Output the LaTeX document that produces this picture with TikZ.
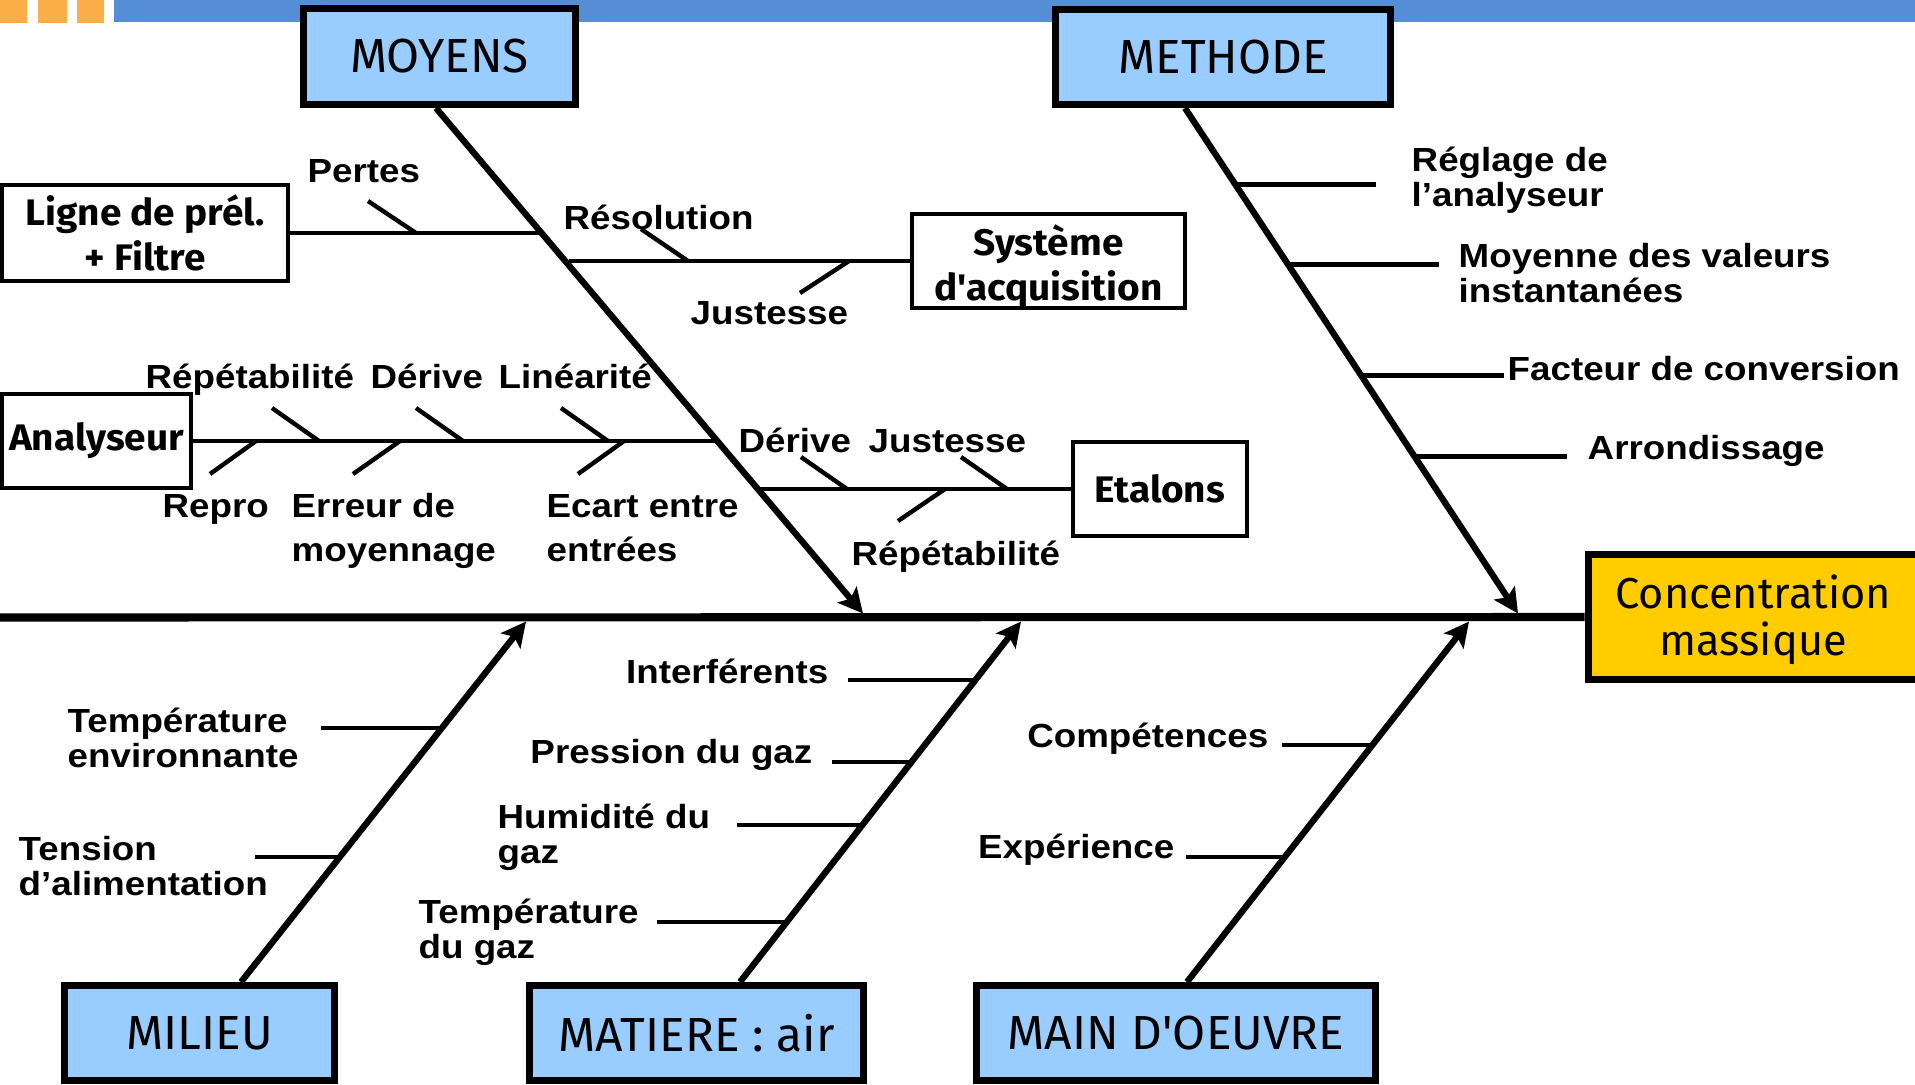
\documentclass[tikz,border=0pt]{standalone}
\usepackage{fontspec}
\setmainfont{Liberation Sans}
\newfontfamily\labfont[FakeStretch=1.1]{Liberation Sans}
\newfontfamily\catfont{Fira Sans}
\newfontfamily\subfont[FakeStretch=1.05]{Fira Sans}
\usetikzlibrary{arrows.meta}

\definecolor{barblue}{RGB}{85,142,213}
\definecolor{barorange}{RGB}{251,173,71}
\definecolor{catblue}{RGB}{153,204,255}
\definecolor{effyellow}{RGB}{255,204,0}

% two stacked lines whose baseline is the first one
\newcommand{\twoln}[2]{\vtop{\hbox{#1}\hbox{#2}}}

\begin{document}
\begin{tikzpicture}[x=0.01cm,y=-0.01cm,
  cat/.style={draw=black, line width=2pt, fill=catblue, inner sep=0pt,
    font=\catfont\fontsize{13.6}{16}\selectfont},
  effbox/.style={draw=black, line width=2pt, fill=effyellow, inner sep=0pt, align=center,
    font=\catfont\fontsize{12.3}{13.4}\selectfont},
  subbox/.style={draw=black, line width=1.2pt, fill=white, inner sep=0pt, align=center,
    font=\subfont\bfseries\fontsize{10.5}{12.6}\selectfont},
  lab/.style={inner sep=0pt, font=\labfont\bfseries\fontsize{9.5}{10}\selectfont},
  labw/.style={inner sep=0pt, font=\labfont\bfseries\fontsize{9.5}{12.6}\selectfont},
  spine/.style={line width=2.3pt},
  bone/.style={line width=1.8pt, -{Stealth[length=7pt,width=7pt,inset=1.5pt]}},
  twig/.style={line width=1.25pt}]

\clip (0,0) rectangle (1915,1084);

% header band
\fill[barorange] (0,0) rectangle (27,23);
\fill[barorange] (38,0) rectangle (67,23);
\fill[barorange] (77,0) rectangle (104,23);
\fill[barblue] (114,0) rectangle (1915,22);

% category boxes
\node[cat, minimum width=2.72cm, minimum height=0.96cm] (moyens) at (439.5,56.5) {MOYENS};
\node[cat, minimum width=3.35cm, minimum height=0.95cm] (methode) at (1223,57) {METHODE};
\node[cat, minimum width=2.70cm, minimum height=0.95cm] (milieu) at (199.5,1033) {MILIEU};
\node[cat, minimum width=3.34cm, minimum height=0.95cm] (matiere) at (696.5,1033) {MATIERE : air};
\node[cat, minimum width=3.99cm, minimum height=0.95cm] (mainoe) at (1176,1033) {MAIN D'OEUVRE};
\node[effbox, anchor=west, minimum width=3.5cm, minimum height=1.25cm] (effet) at (1584.5,617)
  {\rule{0pt}{11pt}Concentration\kern5.6pt\\massique\kern5.6pt};

% spine
\coordinate (spineL) at (0,617.5);
\draw[spine] (spineL) -- (effet.west);

% main bones
\coordinate (moyTip) at (863,613.5);
\coordinate (metTip) at (1518,613.5);
\coordinate (milTip) at (526,621.5);
\coordinate (matTip) at (1021,621.5);
\coordinate (mainTip) at (1469,621.5);
\draw[bone] ([xshift=-0.035cm]moyens.south) -- (moyTip);
\draw[bone] ([xshift=-0.38cm]methode.south) -- (metTip);
\draw[bone] ([xshift=0.415cm]milieu.north) -- (milTip);
\draw[bone] ([xshift=0.435cm]matiere.north) -- (matTip);
\draw[bone] ([xshift=0.11cm]mainoe.north) -- (mainTip);

% ---- MOYENS: sub-causes ----
\node[subbox, minimum width=2.86cm, minimum height=0.96cm] (ligne) at (145,233) {Ligne de prél.\\+ Filtre};
\node[subbox, minimum width=2.73cm, minimum height=0.88cm] (acq) at (1048.5,261) {\rule{0pt}{12pt}Système\\d'acquisition};
\node[subbox, minimum width=1.89cm, minimum height=0.94cm] (analy) at (96.5,441) {Analyseur};
\node[subbox, minimum width=1.74cm, minimum height=0.94cm] (etal) at (1160,489) {Etalons};

\coordinate (ligneJ) at (543,233);
\coordinate (acqJ) at (569,261);
\coordinate (analyJ) at (718.3,441);
\coordinate (etalJ) at (757.7,489);
\draw[twig] (ligne.east) -- (ligneJ);
\draw[twig] (acqJ) -- (acq.west);
\draw[twig] (analy.east) -- (analyJ);
\draw[twig] (etalJ) -- (etal.west);

% ticks on the sub-cause lines
\draw[twig] (368,201) -- (416,233);
\draw[twig] (641,229) -- (688,261);
\draw[twig] (800,293) -- (849,261);
\draw[twig] (272,408) -- (319,441);
\draw[twig] (416,408) -- (463,441);
\draw[twig] (561,408) -- (608,441);
\draw[twig] (210,474) -- (256,441);
\draw[twig] (353,474) -- (400,441);
\draw[twig] (578,474) -- (624,441);
\draw[twig] (801,457) -- (847,489);
\draw[twig] (961,457) -- (1007,489);
\draw[twig] (898,521) -- (945,489);

\node[lab, anchor=base west] (pertes) at (307,182) {Pertes};
\node[lab, anchor=base west] (resol) at (563,229) {Résolution};
\node[lab, anchor=base west] (just1) at (690,324) {Justesse};
\node[lab, anchor=base west] (repet1) at (145,388) {Répétabilité};
\node[lab, anchor=base west] (deriv1) at (370,388) {Dérive};
\node[lab, anchor=base west] (linea) at (498,388) {Linéarité};
\node[lab, anchor=base west] (repro) at (162,517) {Repro};
\node[labw, anchor=base west] (erreur) at (291,517) {\twoln{Erreur de}{moyennage}};
\node[labw, anchor=base west] (ecart) at (546,517) {\twoln{Ecart entre}{entrées}};
\node[lab, anchor=base west] (deriv2) at (738,452) {Dérive};
\node[lab, anchor=base west] (just2) at (868,452) {Justesse};
\node[lab, anchor=base west] (repet2) at (851,565) {Répétabilité};

% ---- METHODE ----
\coordinate (me1a) at (1237.3,184.5); \coordinate (me1b) at (1376,184.5);
\coordinate (me2a) at (1289.7,264.5); \coordinate (me2b) at (1439,264.5);
\coordinate (me3a) at (1362.3,375.5); \coordinate (me3b) at (1504,375.5);
\coordinate (me4a) at (1415.3,456.5); \coordinate (me4b) at (1567,456.5);
\draw[twig] (me1a) -- (me1b);
\draw[twig] (me2a) -- (me2b);
\draw[twig] (me3a) -- (me3b);
\draw[twig] (me4a) -- (me4b);
\node[lab, anchor=base west] (reglage) at (1411,171) {\twoln{Réglage de}{l’analyseur}};
\node[lab, anchor=base west] (moyval) at (1458,267) {\twoln{Moyenne des valeurs}{instantanées}};
\node[lab, anchor=base west] (facteur) at (1507,380) {Facteur de conversion};
\node[lab, anchor=base west] (arrond) at (1587,459) {Arrondissage};

% ---- MILIEU ----
\coordinate (mi1a) at (321,728); \coordinate (mi1b) at (442.6,728);
\coordinate (mi2a) at (255,857); \coordinate (mi2b) at (341.6,857);
\draw[twig] (mi1a) -- (mi1b);
\draw[twig] (mi2a) -- (mi2b);
\node[lab, anchor=base west] (tempenv) at (67,732) {\twoln{Température}{environnante}};
\node[lab, anchor=base west] (tension) at (18,860) {\twoln{Tension}{d’alimentation}};

% ---- MATIERE ----
\coordinate (ma1a) at (848,680); \coordinate (ma1b) at (975.8,680);
\coordinate (ma2a) at (832,762); \coordinate (ma2b) at (912.5,762);
\coordinate (ma3a) at (737,825); \coordinate (ma3b) at (863.9,825);
\coordinate (ma4a) at (657,922); \coordinate (ma4b) at (789,922);
\draw[twig] (ma1a) -- (ma1b);
\draw[twig] (ma2a) -- (ma2b);
\draw[twig] (ma3a) -- (ma3b);
\draw[twig] (ma4a) -- (ma4b);
\node[lab, anchor=base east] (interf) at (829,683) {Interférents};
\node[lab, anchor=base east] (press) at (813,763) {Pression du gaz};
\node[lab, anchor=base west] (humid) at (497,828) {\twoln{Humidité du}{gaz}};
\node[lab, anchor=base west] (tempgaz) at (418,923) {\twoln{Température}{du gaz}};

% ---- MAIN D'OEUVRE ----
\coordinate (mo1a) at (1282,745); \coordinate (mo1b) at (1373.3,745);
\coordinate (mo2a) at (1186,857); \coordinate (mo2b) at (1286.5,857);
\draw[twig] (mo1a) -- (mo1b);
\draw[twig] (mo2a) -- (mo2b);
\node[lab, anchor=base east] (compet) at (1269,747) {Compétences};
\node[lab, anchor=base east] (exper) at (1175,858) {Expérience};

\end{tikzpicture}
\end{document}
